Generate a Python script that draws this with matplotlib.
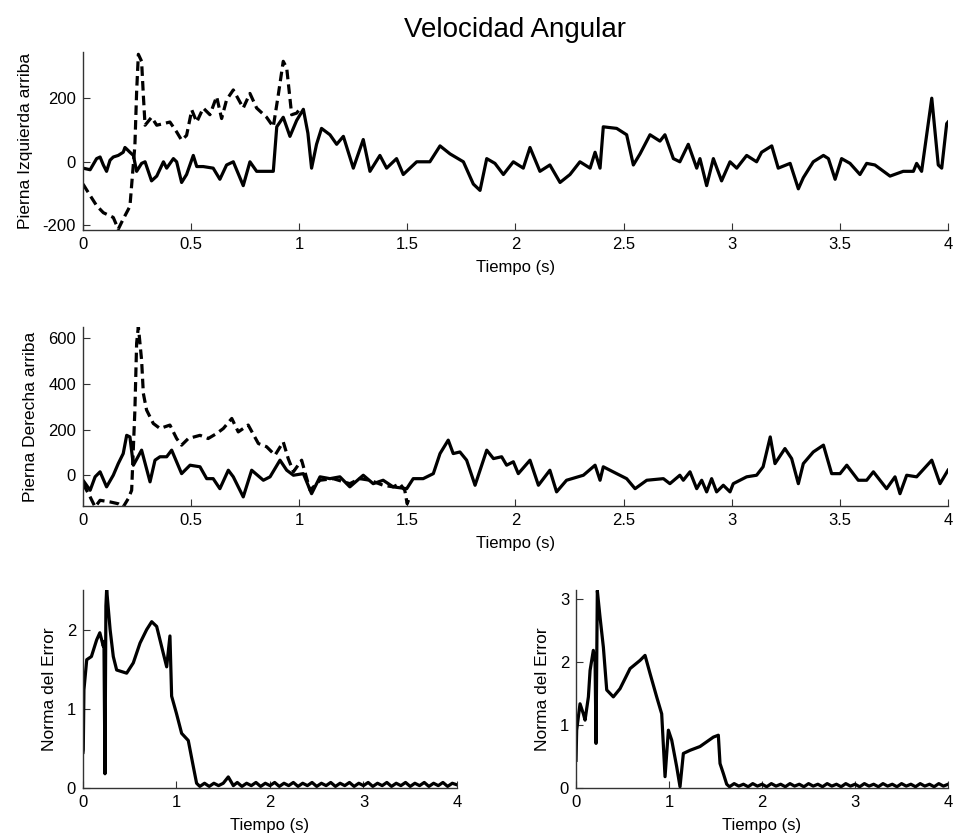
import numpy as np
import matplotlib
matplotlib.use('Agg')
import matplotlib.pyplot as plt

# Pierna izquierda arriba - solid trace
izq_t = [0.0, 0.033, 0.063, 0.079, 0.094, 0.109, 0.125, 0.140, 0.163, 0.186, 0.194, 0.202, 0.217,
         0.233, 0.248, 0.271, 0.287, 0.317, 0.341, 0.372, 0.387, 0.418, 0.433, 0.456, 0.479, 0.510,
         0.526, 0.556, 0.602, 0.633, 0.664, 0.695, 0.741, 0.772, 0.803, 0.849, 0.880, 0.896, 0.926,
         0.957, 0.988, 1.019, 1.040, 1.057, 1.080, 1.103, 1.142, 1.173, 1.204, 1.250, 1.296, 1.327,
         1.373, 1.404, 1.450, 1.481, 1.543, 1.604, 1.651, 1.697, 1.759, 1.805, 1.836, 1.867, 1.905,
         1.944, 1.990, 2.036, 2.067, 2.113, 2.159, 2.206, 2.252, 2.298, 2.345, 2.368, 2.391, 2.406,
         2.468, 2.514, 2.545, 2.576, 2.622, 2.668, 2.691, 2.730, 2.760, 2.799, 2.838, 2.853, 2.884,
         2.915, 2.953, 2.992, 3.023, 3.069, 3.115, 3.138, 3.185, 3.215, 3.270, 3.308, 3.331, 3.377,
         3.424, 3.447, 3.478, 3.508, 3.547, 3.593, 3.624, 3.662, 3.732, 3.793, 3.840, 3.855, 3.878,
         3.925, 3.955, 3.971, 3.994, 4.0]
izq_v = [-20, -25, 10, 15, -10, -30, 5, 15, 20, 30, 45, 40, 30,
         20, -30, -5, 0, -60, -45, 0, -20, 10, 0, -65, -40, 20,
         -15, -15, -20, -55, -10, 0, -75, 0, -30, -30, -30, 110, 140,
         80, 130, 165, 90, -20, 55, 105, 85, 55, 80, -20, 70, -30,
         20, -20, 10, -40, 0, 0, 50, 25, 0, -70, -90, 10, -5,
         -40, 0, -20, 45, -30, -10, -65, -40, 0, -20, 30, -20, 110,
         105, 85, -10, 25, 85, 65, 85, 10, 0, 55, -20, 10, -75,
         10, -60, 0, -20, 20, 0, 30, 50, -20, -5, -85, -50, 0,
         20, 10, -55, 10, -5, -40, -5, -10, -45, -30, -30, -5, -30,
         200, -10, -20, 120, 125]

# Pierna izquierda arriba - dashed trace
izq_ref_t = [0.0, 0.033, 0.063, 0.094, 0.140, 0.163, 0.186, 0.217, 0.240, 0.248, 0.256, 0.271, 0.279,
             0.287, 0.317, 0.341, 0.372, 0.402, 0.433, 0.456, 0.479, 0.503, 0.526, 0.556, 0.587, 0.618,
             0.641, 0.664, 0.695, 0.741, 0.772, 0.803, 0.849, 0.880, 0.903, 0.926, 0.942, 0.965, 0.988,
             1.011]
izq_ref_v = [-70, -106, -138, -160, -175, -212, -180, -140, 52, 220, 338, 316, 210,
             115, 140, 115, 120, 125, 94, 68, 83, 163, 125, 169, 148, 205,
             136, 195, 226, 169, 215, 169, 140, 110, 210, 316, 295, 148, 153,
             174]

# Pierna derecha arriba - solid trace
der_t = [0.0, 0.033, 0.056, 0.079, 0.109, 0.140, 0.163, 0.186, 0.202, 0.217, 0.233, 0.271, 0.310,
         0.333, 0.356, 0.387, 0.410, 0.456, 0.495, 0.541, 0.572, 0.602, 0.633, 0.672, 0.695, 0.741,
         0.780, 0.834, 0.865, 0.911, 0.942, 0.973, 1.019, 1.057, 1.096, 1.142, 1.188, 1.234, 1.296,
         1.342, 1.388, 1.434, 1.497, 1.527, 1.573, 1.620, 1.651, 1.689, 1.712, 1.743, 1.774, 1.813,
         1.867, 1.898, 1.936, 1.959, 1.990, 2.013, 2.067, 2.106, 2.159, 2.190, 2.236, 2.314, 2.368,
         2.391, 2.406, 2.468, 2.514, 2.553, 2.607, 2.684, 2.714, 2.760, 2.776, 2.807, 2.838, 2.861,
         2.884, 2.907, 2.930, 2.961, 2.992, 3.007, 3.069, 3.115, 3.145, 3.178, 3.200, 3.246, 3.277,
         3.308, 3.331, 3.377, 3.424, 3.462, 3.501, 3.532, 3.585, 3.624, 3.655, 3.716, 3.755, 3.778,
         3.809, 3.855, 3.925, 3.963, 4.0]
der_v = [-22, -66, -7, 15, -51, 0, 51, 95, 175, 168, 44, 110, -29,
         66, 81, 81, 110, 7, 44, 37, -15, -15, -59, 22, -7, -95,
         22, -22, -7, 66, 22, 0, 7, -81, -7, -15, -7, -51, 0,
         -37, -22, -51, -59, -15, -15, 7, 95, 154, 95, 102, 66, -44,
         110, 73, 81, 44, 59, 7, 66, -44, 22, -73, -22, 0, 44,
         -22, 37, 7, -15, -59, -22, -15, -37, 0, -22, 15, -59, -22,
         -73, -15, -73, -44, -73, -37, -7, 0, 37, 168, 51, 117, 73,
         -37, 51, 102, 132, 7, 7, 44, -22, -22, 15, -59, -7, -81,
         0, -7, 66, -37, 22]

# Pierna derecha arriba - dashed trace
der_ref_t = [0.0, 0.033, 0.056, 0.079, 0.125, 0.163, 0.186, 0.209, 0.225, 0.240, 0.248, 0.256, 0.271,
             0.279, 0.294, 0.325, 0.356, 0.402, 0.433, 0.456, 0.487, 0.541, 0.579, 0.618, 0.649, 0.688,
             0.718, 0.764, 0.811, 0.849, 0.888, 0.926, 0.949, 0.973, 1.011, 1.050, 1.096, 1.157, 1.234,
             1.280, 1.327, 1.388, 1.434, 1.465, 1.488, 1.499, 1.511]
der_ref_v = [-37, -95, -139, -110, -117, -125, -139, -103, -66, 286, 579, 652, 505,
             359, 286, 227, 205, 220, 161, 132, 161, 175, 161, 183, 205, 249,
             190, 220, 139, 125, 88, 146, 73, 15, 66, -66, -22, -15, -37,
             -15, -22, -44, -51, -37, -66, -125, -95]

# Norma del error - left
err1_t = [0.0, 0.003, 0.01, 0.04, 0.09, 0.146, 0.18, 0.217, 0.224, 0.235, 0.245, 0.253, 0.29,
          0.324, 0.36, 0.467, 0.538, 0.61, 0.681, 0.735, 0.788, 0.859, 0.895, 0.93, 0.948, 1.0,
          1.055, 1.126, 1.18, 1.215, 1.25, 1.30, 1.35, 1.40, 1.45, 1.50, 1.554, 1.608, 1.65, 1.70,
          1.75, 1.80, 1.85, 1.90, 1.95, 2.0, 2.05, 2.1, 2.15, 2.2, 2.25, 2.3, 2.35, 2.4, 2.45, 2.5,
          2.55, 2.6, 2.65, 2.7, 2.75, 2.8, 2.85, 2.9, 2.95, 3.0, 3.05, 3.1, 3.15, 3.2, 3.25, 3.3,
          3.35, 3.4, 3.45, 3.5, 3.55, 3.6, 3.65, 3.7, 3.75, 3.8, 3.85, 3.9, 3.95, 4.0]
err1_v = [0.45, 0.48, 1.24, 1.62, 1.66, 1.87, 1.96, 1.79, 1.85, 0.18, 2.3, 2.51, 2.0,
          1.66, 1.49, 1.45, 1.58, 1.83, 2.0, 2.1, 2.04, 1.7, 1.53, 1.92, 1.16, 0.94,
          0.69, 0.6, 0.27, 0.06, 0.02, 0.06, 0.02, 0.06, 0.03, 0.06, 0.14, 0.03, 0.07, 0.02,
          0.06, 0.03, 0.07, 0.02, 0.06, 0.03, 0.07, 0.02, 0.06, 0.03, 0.07, 0.02, 0.06, 0.03, 0.07, 0.02,
          0.06, 0.03, 0.07, 0.02, 0.06, 0.03, 0.07, 0.02, 0.06, 0.03, 0.07, 0.02, 0.06, 0.03, 0.07, 0.02,
          0.06, 0.03, 0.07, 0.02, 0.06, 0.03, 0.07, 0.02, 0.06, 0.03, 0.07, 0.02, 0.06, 0.04]

# Norma del error - right
err2_t = [0.0, 0.007, 0.043, 0.079, 0.097, 0.133, 0.151, 0.186, 0.205, 0.215, 0.229, 0.258, 0.294,
          0.330, 0.401, 0.473, 0.581, 0.688, 0.742, 0.796, 0.867, 0.921, 0.957, 0.993, 1.029, 1.082,
          1.118, 1.154, 1.226, 1.333, 1.477, 1.530, 1.548, 1.584, 1.620, 1.65, 1.70,
          1.75, 1.80, 1.85, 1.90, 1.95, 2.0, 2.05, 2.1, 2.15, 2.2, 2.25, 2.3, 2.35, 2.4, 2.45, 2.5,
          2.55, 2.6, 2.65, 2.7, 2.75, 2.8, 2.85, 2.9, 2.95, 3.0, 3.05, 3.1, 3.15, 3.2, 3.25, 3.3,
          3.35, 3.4, 3.45, 3.5, 3.55, 3.6, 3.65, 3.7, 3.75, 3.8, 3.85, 3.9, 3.95, 4.0]
err2_v = [0.44, 0.92, 1.34, 1.18, 1.08, 1.45, 1.87, 2.19, 2.0, 0.71, 3.14, 2.72, 2.24,
          1.56, 1.45, 1.58, 1.9, 2.03, 2.11, 1.82, 1.45, 1.18, 0.18, 0.92, 0.76, 0.34,
          0.02, 0.55, 0.6, 0.66, 0.81, 0.84, 0.39, 0.23, 0.06, 0.02, 0.07,
          0.03, 0.06, 0.02, 0.07, 0.03, 0.06, 0.02, 0.07, 0.03, 0.06, 0.02, 0.07, 0.03, 0.06, 0.02, 0.07,
          0.03, 0.06, 0.02, 0.07, 0.03, 0.06, 0.02, 0.07, 0.03, 0.06, 0.02, 0.07, 0.03, 0.06, 0.02, 0.07,
          0.03, 0.06, 0.02, 0.07, 0.03, 0.06, 0.02, 0.07, 0.03, 0.06, 0.02, 0.07, 0.03, 0.06]

plt.rcParams['font.family'] = ['Liberation Sans', 'DejaVu Sans']
plt.rcParams['font.size'] = 12

fig = plt.figure(figsize=(9.54, 8.4), dpi=100)

def style(ax, xlim, ylim, xticks, yticks, ylabel):
    ax.set_xlim(xlim)
    ax.set_ylim(ylim)
    ax.set_xticks(xticks)
    ax.set_xticklabels([('%g' % v) for v in xticks])
    ax.set_yticks(yticks)
    ax.set_yticklabels([('%g' % v) for v in yticks])
    ax.spines['top'].set_visible(False)
    ax.spines['right'].set_visible(False)
    for s in ['left', 'bottom']:
        ax.spines[s].set_color('#333333')
        ax.spines[s].set_linewidth(1.0)
    ax.tick_params(direction='in', length=5, color='#333333', labelsize=12, pad=5)
    ax.set_xlabel('Tiempo (s)', fontsize=12, labelpad=6)
    ax.set_ylabel(ylabel, fontsize=12.5, labelpad=7)

ls = dict(color='k', lw=2.3)
dash = (3, 1.6)

ax1 = fig.add_axes([0.087, 0.726, 0.9067, 0.212])
ax1.plot(izq_ref_t, izq_ref_v, ls='--', dashes=dash, **ls)
ax1.plot(izq_t, izq_v, **ls)
style(ax1, (0, 4), (-215, 345), [0, 0.5, 1, 1.5, 2, 2.5, 3, 3.5, 4], [-200, 0, 200],
      'Pierna Izquierda arriba')
ax1.set_title('Velocidad Angular', fontsize=20, pad=11)

ax2 = fig.add_axes([0.087, 0.3976, 0.9067, 0.2131])
ax2.plot(der_ref_t, der_ref_v, ls='--', dashes=dash, **ls)
ax2.plot(der_t, der_v, **ls)
style(ax2, (0, 4), (-135, 650), [0, 0.5, 1, 1.5, 2, 2.5, 3, 3.5, 4], [0, 200, 400, 600],
      'Pierna Derecha arriba')

ax3 = fig.add_axes([0.087, 0.0619, 0.392, 0.2357])
ax3.plot(err1_t, err1_v, **ls)
style(ax3, (0, 4), (0, 2.5), [0, 1, 2, 3, 4], [0, 1, 2], 'Norma del Error')

ax4 = fig.add_axes([0.6038, 0.0619, 0.39, 0.2357])
ax4.plot(err2_t, err2_v, **ls)
style(ax4, (0, 4), (0, 3.15), [0, 1, 2, 3, 4], [0, 1, 2, 3], 'Norma del Error')

fig.savefig('out.png', dpi=100)
